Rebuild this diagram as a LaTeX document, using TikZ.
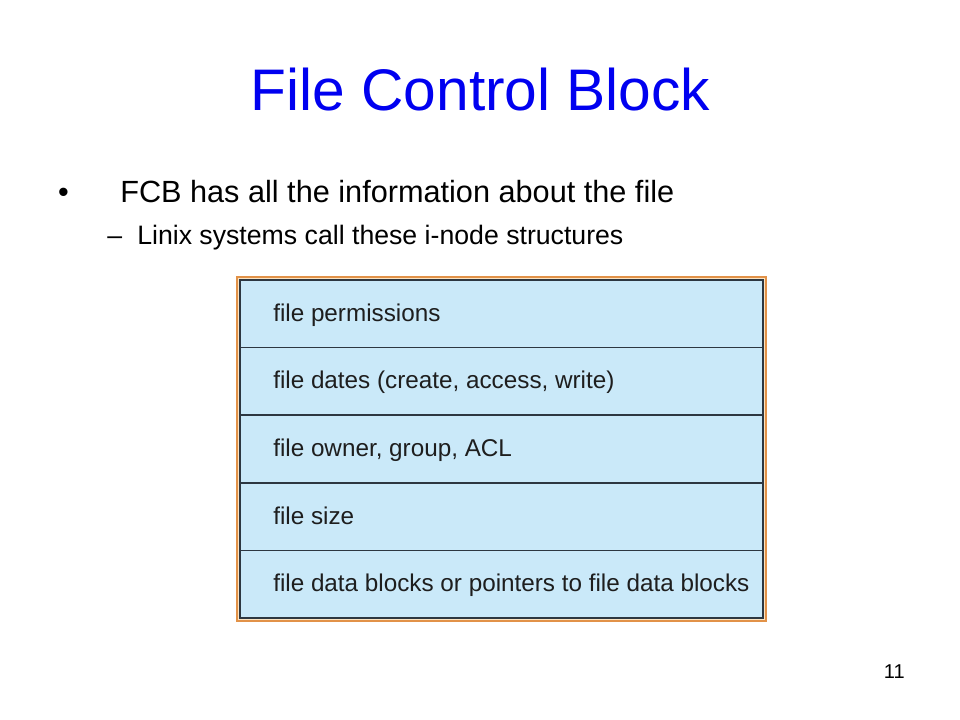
\documentclass[tikz,border=0pt]{standalone}
\usepackage{fontspec}
\setmainfont{Liberation Sans}
\usetikzlibrary{positioning}
\usetikzlibrary{backgrounds}
\definecolor{ttlblue}{RGB}{0,0,240}
\definecolor{fcbblue}{RGB}{202,233,249}
\definecolor{fcbline}{RGB}{45,55,65}
\definecolor{frameorange}{RGB}{226,146,72}
\definecolor{frametan}{RGB}{250,228,196}
\definecolor{fcbtext}{RGB}{30,30,30}
\tikzset{fcbrow/.style = {draw=fcbline, line width=1.1pt, fill=fcbblue,
                          minimum width=392.25pt, minimum height=50.7pt,
                          inner sep=0, outer sep=0}}
\tikzset{fcbtxt/.style = {anchor=base west, inner sep=0, text=fcbtext,
                          font=\fontsize{18.2}{21}\selectfont}}
\tikzset{fcbframe/.style = {draw=frameorange, line width=1.5pt, fill=frametan}}
\begin{document}
\begin{tikzpicture}[x=0.75pt, y=-0.75pt]
          \useasboundingbox (0,0) rectangle (960,720);
          % title and bullets
          \node[anchor=base, inner sep=0, text=ttlblue, font=\fontsize{44}{50}\selectfont]
            (title) at (480.5,111) {File Control Block};
          \node[anchor=base, inner sep=0, font=\fontsize{23}{27}\selectfont]
            (dot) at (63.5,203) {•};
          \node[anchor=base west, inner sep=0, font=\fontsize{23}{27}\selectfont]
            (fcb) at (120,203) {FCB has all the information about the file};
          \node[anchor=base west, inner sep=0, font=\fontsize{20}{24}\selectfont]
            (dash) at (107,245) {–};
          \node[anchor=base west, inner sep=0, font=\fontsize{20}{24}\selectfont]
            (linix) at (137,245) {Linix systems call these i-node structures};
          % the block
          \node[fcbrow] (rowA) at (501.5,313.8) {};
          \node[fcbrow, below=0pt of rowA] (rowB) {};
          \node[fcbrow, below=0pt of rowB] (rowC) {};
          \node[fcbrow, below=0pt of rowC] (rowD) {};
          \node[fcbrow, below=0pt of rowD] (rowE) {};
          \begin{scope}[on background layer]
          \fill[white] (0,0) rectangle (960,720);
          \draw[fcbframe]
            ([shift={(-2.3pt,2.3pt)}]rowA.north west) rectangle
            ([shift={(2.0pt,-2.3pt)}]rowE.south east);
          \end{scope}
          \node[fcbtxt] (permA) at ([xshift=24.75pt,yshift=-5.6pt]rowA.west) {file permissions};
          \node[fcbtxt] (datesB) at ([xshift=24.75pt,yshift=-5.6pt]rowB.west) {file dates (create, access, write)};
          \node[fcbtxt] (ownerC) at ([xshift=24.75pt,yshift=-5.6pt]rowC.west) {file owner, group, ACL};
          \node[fcbtxt] (sizeD) at ([xshift=24.75pt,yshift=-5.6pt]rowD.west) {file size};
          \node[fcbtxt] (dataE) at ([xshift=24.75pt,yshift=-5.6pt]rowE.west) {file data blocks or pointers to file data blocks};
          % slide number
          \node[anchor=base east, inner sep=0, font=\fontsize{15}{18}\selectfont]
            (pagenum) at (905,678) {11};
        \end{tikzpicture}
\end{document}
